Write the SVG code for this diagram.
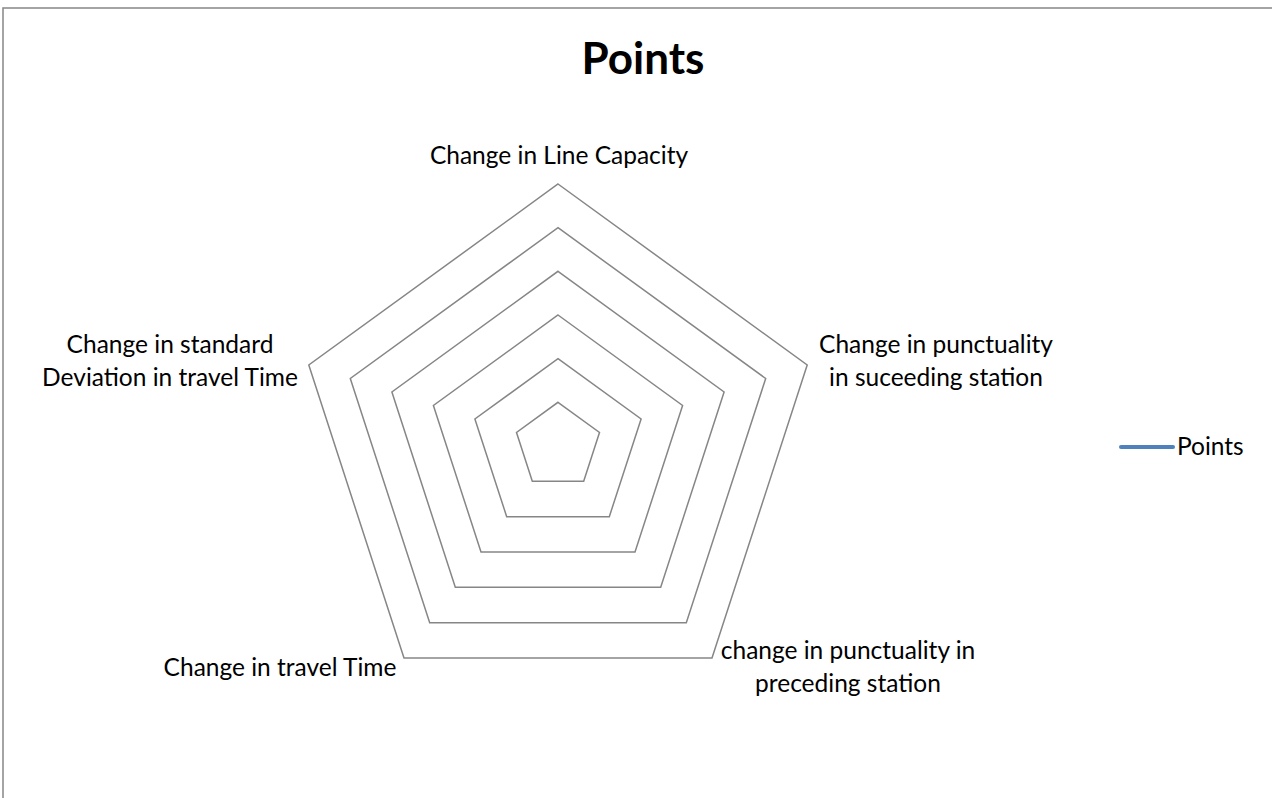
<svg xmlns="http://www.w3.org/2000/svg" width="1272" height="798" viewBox="0 0 1272 798">
<style>
.t{font-family:Lato,"Liberation Sans",sans-serif;font-size:24.5px;fill:#000}
.ring{fill:none;stroke:#868686;stroke-width:1.5}
</style>
<rect x="0" y="0" width="1272" height="798" fill="#fff"/>
<rect x="3" y="8" width="1290" height="820" fill="none" stroke="#868686" stroke-width="1.5"/>
<g id="title"><text x="643" y="74" text-anchor="middle" style="font-family:Lato,'Liberation Sans',sans-serif;font-weight:bold;font-size:44px">Points</text></g>
<g id="grid">
<polygon class="ring" points="558,184 807.2,365 712,658 404,658 308.8,365"/>
<polygon class="ring" points="558,227.7 765.7,378.5 686.3,622.7 429.7,622.7 350.3,378.5"/>
<polygon class="ring" points="558,271.3 724.1,392 660.7,587.3 455.3,587.3 391.9,392"/>
<polygon class="ring" points="558,315 682.6,405.5 635,552 481,552 433.4,405.5"/>
<polygon class="ring" points="558,358.7 641.1,419 609.3,516.7 506.7,516.7 474.9,419"/>
<polygon class="ring" points="558,402.3 599.5,432.5 583.7,481.3 532.3,481.3 516.5,432.5"/>
</g>
<g id="axis-top"><text class="t" x="559" y="164" text-anchor="middle">Change in Line Capacity</text></g>
<g id="axis-right">
<text class="t" x="936" y="353" text-anchor="middle">Change in punctuality</text>
<text class="t" x="936" y="386" text-anchor="middle">in suceeding station</text>
</g>
<g id="axis-bottom-right">
<text class="t" x="848" y="659" text-anchor="middle">change in punctuality in</text>
<text class="t" x="848" y="692" text-anchor="middle">preceding station</text>
</g>
<g id="axis-bottom-left"><text class="t" x="280" y="676" text-anchor="middle">Change in travel Time</text></g>
<g id="axis-left">
<text class="t" x="170" y="353" text-anchor="middle">Change in standard</text>
<text class="t" x="170" y="386" text-anchor="middle">Deviation in travel Time</text>
</g>
<g id="legend">
<line x1="1121" y1="447" x2="1173" y2="447" stroke="#4F81BD" stroke-width="4" stroke-linecap="round"/>
<text class="t" x="1177" y="455">Points</text>
</g>
</svg>
